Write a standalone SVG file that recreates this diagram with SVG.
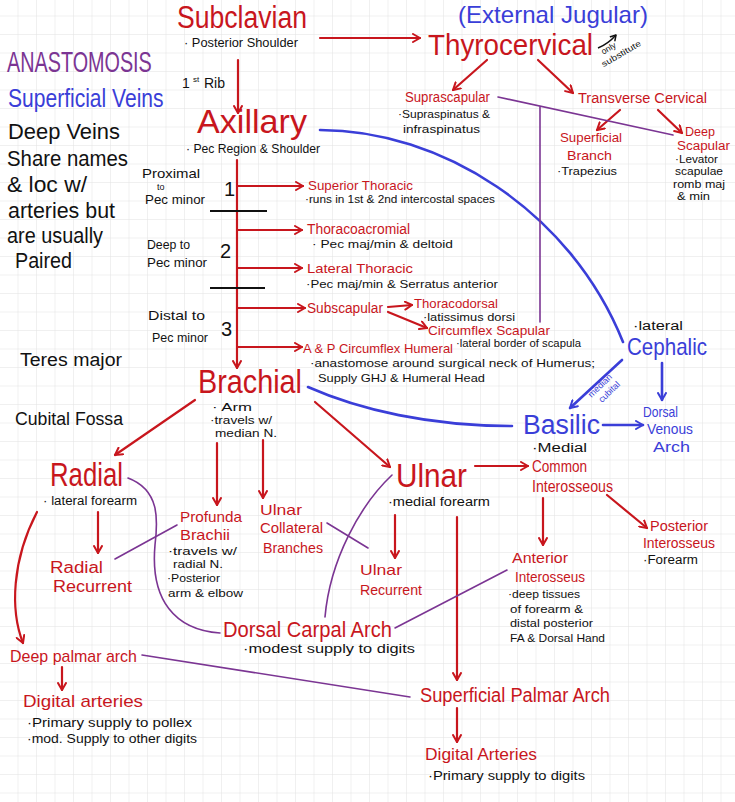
<svg xmlns="http://www.w3.org/2000/svg" width="735" height="802" viewBox="0 0 735 802">
<defs>
<pattern id="grid" width="18.5" height="18.5" patternUnits="userSpaceOnUse" x="-1" y="-3">
<path d="M18.5,0 L0,0 L0,18.5" fill="none" stroke="#e2e2e2" stroke-width="1"/>
</pattern>
<marker id="ar" markerWidth="10" markerHeight="10" refX="8" refY="5" orient="auto" markerUnits="userSpaceOnUse">
<path d="M1,1 L8,5 L1,9" fill="none" stroke="#c8161d" stroke-width="2" stroke-linecap="round" stroke-linejoin="round"/>
</marker>
<marker id="ab" markerWidth="10" markerHeight="10" refX="8" refY="5" orient="auto" markerUnits="userSpaceOnUse">
<path d="M1,1 L8,5 L1,9" fill="none" stroke="#3a3ed8" stroke-width="2" stroke-linecap="round" stroke-linejoin="round"/>
</marker>
<marker id="ak" markerWidth="8" markerHeight="8" refX="6" refY="4" orient="auto" markerUnits="userSpaceOnUse">
<path d="M1,1 L6,4 L1,7" fill="none" stroke="#111" stroke-width="1.5" stroke-linecap="round" stroke-linejoin="round"/>
</marker>
</defs>
<style>
text{font-family:"Liberation Sans",Arial,sans-serif}
.r{fill:#c8161d}
.b{fill:#3a3ed8}
.p{fill:#7b3593}
.k{fill:#111}
.cr{fill:none;stroke:#c8161d;stroke-width:2.2;stroke-linecap:round}
.cb{fill:none;stroke:#3a3ed8;stroke-width:2.6;stroke-linecap:round}
.cp{fill:none;stroke:#7b3593;stroke-width:1.6;stroke-linecap:round}
.ck{fill:none;stroke:#111;stroke-width:1.8}
.ar{marker-end:url(#ar)}
.ab{marker-end:url(#ab)}
</style>
<rect width="735" height="802" fill="#fff"/>
<rect width="735" height="802" fill="url(#grid)"/>

<g id="connectors">
<path class="cr ar" d="M320,38 L420,38"/>
<path class="cr ar" d="M238,60 L238,113"/>
<path class="cr ar" d="M237,160 L237,368"/>
<path class="cr ar" d="M237,186 L303,186"/>
<path class="cr ar" d="M237,230 L302,230"/>
<path class="cr ar" d="M237,268 L302,268"/>
<path class="cr ar" d="M237,308 L305,308"/>
<path class="cr ar" d="M237,347 L302,347"/>
<path class="cr ar" d="M388,307 L412,305"/>
<path class="cr ar" d="M388,312 L427,328"/>
<path class="cr ar" d="M487,60 L453,90"/>
<path class="cr ar" d="M538,60 L573,93"/>
<path class="cr ar" d="M620,110 L597,130"/>
<path class="cr ar" d="M658,110 L682,133"/>
<path class="cr ar" d="M195,400 L115,455"/>
<path class="cr ar" d="M315,402 L390,467"/>
<path class="cr ar" d="M217,443 L217,505"/>
<path class="cr ar" d="M263,440 L263,498"/>
<path class="cr ar" d="M98,512 L98,553"/>
<path class="cr ar" d="M37,512 C12,560 10,610 23,643"/>
<path class="cr ar" d="M395,515 L395,558"/>
<path class="cr ar" d="M457,517 L457,680"/>
<path class="cr ar" d="M475,466 L528,466"/>
<path class="cr ar" d="M543,498 L543,545"/>
<path class="cr ar" d="M607,495 L647,528"/>
<path class="cr ar" d="M62,667 L62,690"/>
<path class="cr ar" d="M457,708 L457,742"/>
<path class="cb" d="M320,130 C440,130 570,210 623,342"/>
<path class="cb" d="M308,387 C360,410 430,426 512,426"/>
<path class="cb ab" d="M622,360 L570,408"/>
<path class="cb ab" d="M662,363 L662,400"/>
<path class="cb ab" d="M603,425 L643,425"/>
<path class="cp" d="M498,97 L673,135"/>
<path class="cp" d="M540,107 L540,322"/>
<path class="cp" d="M128,478 C160,490 158,520 155,545 C150,600 175,630 220,633"/>
<path class="cp" d="M115,559 L177,525"/>
<path class="cp" d="M327,523 L368,548"/>
<path class="cp" d="M392,475 C360,505 330,560 325,617"/>
<path class="cp" d="M395,628 L507,570"/>
<path class="cp" d="M142,655 L410,697"/>
<path class="ck" d="M210,211 L267,211"/>
<path class="ck" d="M210,288 L265,288"/>
<path fill="none" stroke="#111" stroke-width="1.5" marker-end="url(#ak)" d="M598,48 Q608,44 616,35"/>
</g>

<g id="legend">
<text class="p" transform="translate(7,72) scale(0.66,1)" font-size="30">ANASTOMOSIS</text>
<text class="b" transform="translate(8,107) scale(0.81,1)" font-size="26">Superficial Veins</text>
<text class="k" x="8" y="139" font-size="22" textLength="112" lengthAdjust="spacingAndGlyphs">Deep Veins</text>
<text class="k" x="7" y="166" font-size="22" textLength="121" lengthAdjust="spacingAndGlyphs">Share names</text>
<text class="k" x="7" y="192" font-size="22" textLength="80" lengthAdjust="spacingAndGlyphs">&amp; loc w/</text>
<text class="k" x="8" y="218" font-size="22" textLength="107" lengthAdjust="spacingAndGlyphs">arteries but</text>
<text class="k" x="7" y="243" font-size="22" textLength="96" lengthAdjust="spacingAndGlyphs">are usually</text>
<text class="k" x="15" y="268" font-size="22" textLength="57" lengthAdjust="spacingAndGlyphs">Paired</text>
<text class="k" x="20" y="366" font-size="18" textLength="102" lengthAdjust="spacingAndGlyphs">Teres major</text>
<text class="k" x="15" y="425" font-size="18" textLength="108" lengthAdjust="spacingAndGlyphs">Cubital Fossa</text>
</g>

<g id="subclavian">
<text class="r" x="177" y="28" font-size="31" textLength="130" lengthAdjust="spacingAndGlyphs">Subclavian</text>
<text class="k" x="184" y="47" font-size="12" textLength="114" lengthAdjust="spacingAndGlyphs">· Posterior Shoulder</text>
</g>

<g id="external-jugular">
<text class="b" x="458" y="23" font-size="24" textLength="190" lengthAdjust="spacingAndGlyphs">(External Jugular)</text>
</g>

<g id="thyrocervical">
<text class="r" x="428" y="55" font-size="30" textLength="165" lengthAdjust="spacingAndGlyphs">Thyrocervical</text>
<g transform="translate(604,60) rotate(-30)">
<text class="k" x="2" y="-5" font-size="8.5">only</text>
<text class="k" x="-4" y="6" font-size="8.5" textLength="44" lengthAdjust="spacingAndGlyphs">substitute</text>
</g>
</g>

<g id="first-rib">
<text class="k" x="182" y="88" font-size="14">1</text>
<text class="k" x="193" y="82" font-size="8">st</text>
<text class="k" x="204" y="88" font-size="14">Rib</text>
</g>

<g id="axillary">
<text class="r" x="197" y="133" font-size="34" textLength="110" lengthAdjust="spacingAndGlyphs">Axillary</text>
<text class="k" x="186" y="153" font-size="12" textLength="134" lengthAdjust="spacingAndGlyphs">· Pec Region &amp; Shoulder</text>
</g>

<g id="axillary-parts">
<text class="k" x="142" y="178" font-size="13" textLength="58" lengthAdjust="spacingAndGlyphs">Proximal</text>
<text class="k" x="157" y="190" font-size="9">to</text>
<text class="k" x="145" y="204" font-size="13" textLength="60" lengthAdjust="spacingAndGlyphs">Pec minor</text>
<text class="k" x="224" y="196" font-size="20">1</text>
<text class="k" x="147" y="249" font-size="13" textLength="43" lengthAdjust="spacingAndGlyphs">Deep to</text>
<text class="k" x="147" y="267" font-size="13" textLength="60" lengthAdjust="spacingAndGlyphs">Pec minor</text>
<text class="k" x="220" y="258" font-size="20">2</text>
<text class="k" x="148" y="320" font-size="13" textLength="57" lengthAdjust="spacingAndGlyphs">Distal to</text>
<text class="k" x="152" y="342" font-size="13" textLength="56" lengthAdjust="spacingAndGlyphs">Pec minor</text>
<text class="k" x="221" y="336" font-size="20">3</text>
</g>

<g id="superior-thoracic">
<text class="r" x="308" y="190" font-size="13" textLength="105" lengthAdjust="spacingAndGlyphs">Superior Thoracic</text>
<text class="k" x="305" y="203" font-size="10" textLength="190" lengthAdjust="spacingAndGlyphs">·runs in 1st &amp; 2nd intercostal spaces</text>
</g>
<g id="thoracoacromial">
<text class="r" x="307" y="234" font-size="14" textLength="103" lengthAdjust="spacingAndGlyphs">Thoracoacromial</text>
<text class="k" x="312" y="248" font-size="11" textLength="141" lengthAdjust="spacingAndGlyphs">· Pec maj/min &amp; deltoid</text>
</g>
<g id="lateral-thoracic">
<text class="r" x="307" y="273" font-size="13" textLength="106" lengthAdjust="spacingAndGlyphs">Lateral Thoracic</text>
<text class="k" x="306" y="288" font-size="11" textLength="192" lengthAdjust="spacingAndGlyphs">·Pec maj/min &amp; Serratus anterior</text>
</g>
<g id="subscapular">
<text class="r" x="307" y="313" font-size="14" textLength="76" lengthAdjust="spacingAndGlyphs">Subscapular</text>
</g>
<g id="thoracodorsal">
<text class="r" x="414" y="308" font-size="13" textLength="84" lengthAdjust="spacingAndGlyphs">Thoracodorsal</text>
<text class="k" x="423" y="321" font-size="10" textLength="92" lengthAdjust="spacingAndGlyphs">·latissimus dorsi</text>
</g>
<g id="circumflex-scapular">
<text class="r" x="428" y="335" font-size="13" textLength="122" lengthAdjust="spacingAndGlyphs">Circumflex Scapular</text>
<text class="k" x="456" y="347" font-size="10" textLength="125" lengthAdjust="spacingAndGlyphs">·lateral border of scapula</text>
</g>
<g id="ap-circumflex-humeral">
<text class="r" x="303" y="353" font-size="13" textLength="150" lengthAdjust="spacingAndGlyphs">A &amp; P Circumflex Humeral</text>
<text class="k" x="310" y="367" font-size="11" textLength="285" lengthAdjust="spacingAndGlyphs">·anastomose around surgical neck of Humerus;</text>
<text class="k" x="318" y="382" font-size="11" textLength="167" lengthAdjust="spacingAndGlyphs">Supply GHJ &amp; Humeral Head</text>
</g>

<g id="suprascapular">
<text class="r" x="405" y="102" font-size="14" textLength="85" lengthAdjust="spacingAndGlyphs">Suprascapular</text>
<text class="k" x="398" y="118" font-size="11" textLength="92" lengthAdjust="spacingAndGlyphs">·Supraspinatus &amp;</text>
<text class="k" x="403" y="133" font-size="11" textLength="77" lengthAdjust="spacingAndGlyphs">infraspinatus</text>
</g>
<g id="transverse-cervical">
<text class="r" x="578" y="103" font-size="14" textLength="129" lengthAdjust="spacingAndGlyphs">Transverse Cervical</text>
</g>
<g id="superficial-branch">
<text class="r" x="560" y="142" font-size="13" textLength="62" lengthAdjust="spacingAndGlyphs">Superficial</text>
<text class="r" x="567" y="160" font-size="13" textLength="45" lengthAdjust="spacingAndGlyphs">Branch</text>
<text class="k" x="557" y="175" font-size="11" textLength="60" lengthAdjust="spacingAndGlyphs">·Trapezius</text>
</g>
<g id="deep-scapular">
<text class="r" x="685" y="136" font-size="12" textLength="30" lengthAdjust="spacingAndGlyphs">Deep</text>
<text class="r" x="677" y="150" font-size="12" textLength="53" lengthAdjust="spacingAndGlyphs">Scapular</text>
<text class="k" x="675" y="163" font-size="10" textLength="43" lengthAdjust="spacingAndGlyphs">·Levator</text>
<text class="k" x="675" y="175" font-size="10" textLength="48" lengthAdjust="spacingAndGlyphs">scapulae</text>
<text class="k" x="673" y="188" font-size="10" textLength="52" lengthAdjust="spacingAndGlyphs">romb maj</text>
<text class="k" x="677" y="200" font-size="10" textLength="33" lengthAdjust="spacingAndGlyphs">&amp; min</text>
</g>

<g id="cephalic">
<text class="k" x="633" y="330" font-size="12" textLength="50" lengthAdjust="spacingAndGlyphs">·lateral</text>
<text class="b" x="627" y="355" font-size="24" textLength="80" lengthAdjust="spacingAndGlyphs">Cephalic</text>
<g transform="translate(605,389) rotate(-44)">
<text class="b" x="-16" y="-3" font-size="9">median</text>
<text class="b" x="-12" y="8" font-size="9">cubital</text>
</g>
</g>
<g id="basilic">
<text class="b" x="523" y="434" font-size="27" textLength="77" lengthAdjust="spacingAndGlyphs">Basilic</text>
<text class="k" x="532" y="452" font-size="12" textLength="55" lengthAdjust="spacingAndGlyphs">·Medial</text>
</g>
<g id="dorsal-venous-arch">
<text class="b" x="643" y="417" font-size="15" textLength="35" lengthAdjust="spacingAndGlyphs">Dorsal</text>
<text class="b" x="647" y="434" font-size="15" textLength="46" lengthAdjust="spacingAndGlyphs">Venous</text>
<text class="b" x="653" y="452" font-size="15" textLength="37" lengthAdjust="spacingAndGlyphs">Arch</text>
</g>

<g id="brachial">
<text class="r" x="198" y="393" font-size="33" textLength="104" lengthAdjust="spacingAndGlyphs">Brachial</text>
<text class="k" x="212" y="411" font-size="11" textLength="40" lengthAdjust="spacingAndGlyphs">· Arm</text>
<text class="k" x="210" y="424" font-size="11" textLength="62" lengthAdjust="spacingAndGlyphs">·travels w/</text>
<text class="k" x="215" y="437" font-size="11" textLength="62" lengthAdjust="spacingAndGlyphs">median N.</text>
</g>

<g id="radial">
<text class="r" x="50" y="486" font-size="33" textLength="73" lengthAdjust="spacingAndGlyphs">Radial</text>
<text class="k" x="43" y="505" font-size="12" textLength="94" lengthAdjust="spacingAndGlyphs">· lateral forearm</text>
</g>
<g id="radial-recurrent">
<text class="r" x="50" y="573" font-size="16" textLength="53" lengthAdjust="spacingAndGlyphs">Radial</text>
<text class="r" x="53" y="592" font-size="16" textLength="79" lengthAdjust="spacingAndGlyphs">Recurrent</text>
</g>
<g id="profunda-brachii">
<text class="r" x="180" y="522" font-size="15" textLength="62" lengthAdjust="spacingAndGlyphs">Profunda</text>
<text class="r" x="180" y="540" font-size="15" textLength="50" lengthAdjust="spacingAndGlyphs">Brachii</text>
<text class="k" x="168" y="555" font-size="11" textLength="69" lengthAdjust="spacingAndGlyphs">·travels w/</text>
<text class="k" x="173" y="568" font-size="11" textLength="50" lengthAdjust="spacingAndGlyphs">radial N.</text>
<text class="k" x="167" y="582" font-size="11" textLength="53" lengthAdjust="spacingAndGlyphs">·Posterior</text>
<text class="k" x="168" y="597" font-size="11" textLength="75" lengthAdjust="spacingAndGlyphs">arm &amp; elbow</text>
</g>
<g id="ulnar-collateral">
<text class="r" x="260" y="515" font-size="15" textLength="42" lengthAdjust="spacingAndGlyphs">Ulnar</text>
<text class="r" x="260" y="533" font-size="15" textLength="63" lengthAdjust="spacingAndGlyphs">Collateral</text>
<text class="r" x="263" y="553" font-size="15" textLength="60" lengthAdjust="spacingAndGlyphs">Branches</text>
</g>
<g id="ulnar">
<text class="r" x="396" y="487" font-size="33" textLength="71" lengthAdjust="spacingAndGlyphs">Ulnar</text>
<text class="k" x="388" y="506" font-size="12" textLength="102" lengthAdjust="spacingAndGlyphs">·medial forearm</text>
</g>
<g id="ulnar-recurrent">
<text class="r" x="360" y="575" font-size="15" textLength="42" lengthAdjust="spacingAndGlyphs">Ulnar</text>
<text class="r" x="360" y="595" font-size="15" textLength="62" lengthAdjust="spacingAndGlyphs">Recurrent</text>
</g>
<g id="common-interosseous">
<text class="r" x="532" y="472" font-size="16" textLength="55" lengthAdjust="spacingAndGlyphs">Common</text>
<text class="r" x="532" y="492" font-size="16" textLength="81" lengthAdjust="spacingAndGlyphs">Interosseous</text>
</g>
<g id="anterior-interosseus">
<text class="r" x="512" y="563" font-size="15" textLength="56" lengthAdjust="spacingAndGlyphs">Anterior</text>
<text class="r" x="515" y="582" font-size="15" textLength="70" lengthAdjust="spacingAndGlyphs">Interosseus</text>
<text class="k" x="508" y="598" font-size="11" textLength="72" lengthAdjust="spacingAndGlyphs">·deep tissues</text>
<text class="k" x="510" y="613" font-size="11" textLength="73" lengthAdjust="spacingAndGlyphs">of forearm &amp;</text>
<text class="k" x="510" y="627" font-size="11" textLength="83" lengthAdjust="spacingAndGlyphs">distal posterior</text>
<text class="k" x="510" y="642" font-size="11" textLength="95" lengthAdjust="spacingAndGlyphs">FA &amp; Dorsal Hand</text>
</g>
<g id="posterior-interosseus">
<text class="r" x="650" y="531" font-size="15" textLength="58" lengthAdjust="spacingAndGlyphs">Posterior</text>
<text class="r" x="643" y="548" font-size="15" textLength="72" lengthAdjust="spacingAndGlyphs">Interosseus</text>
<text class="k" x="643" y="564" font-size="12" textLength="55" lengthAdjust="spacingAndGlyphs">·Forearm</text>
</g>
<g id="dorsal-carpal-arch">
<text class="r" x="223" y="637" font-size="22" textLength="169" lengthAdjust="spacingAndGlyphs">Dorsal Carpal Arch</text>
<text class="k" x="243" y="653" font-size="12" textLength="172" lengthAdjust="spacingAndGlyphs">·modest supply to digits</text>
</g>
<g id="deep-palmar-arch">
<text class="r" x="10" y="662" font-size="17" textLength="127" lengthAdjust="spacingAndGlyphs">Deep palmar arch</text>
</g>
<g id="digital-arteries-deep">
<text class="r" x="23" y="707" font-size="17" textLength="120" lengthAdjust="spacingAndGlyphs">Digital arteries</text>
<text class="k" x="27" y="727" font-size="12" textLength="165" lengthAdjust="spacingAndGlyphs">·Primary supply to pollex</text>
<text class="k" x="27" y="743" font-size="12" textLength="170" lengthAdjust="spacingAndGlyphs">·mod. Supply to other digits</text>
</g>
<g id="superficial-palmar-arch">
<text class="r" x="420" y="702" font-size="20" textLength="190" lengthAdjust="spacingAndGlyphs">Superficial Palmar Arch</text>
</g>
<g id="digital-arteries-superficial">
<text class="r" x="425" y="760" font-size="17" textLength="112" lengthAdjust="spacingAndGlyphs">Digital Arteries</text>
<text class="k" x="428" y="780" font-size="12" textLength="157" lengthAdjust="spacingAndGlyphs">·Primary supply to digits</text>
</g>
</svg>
